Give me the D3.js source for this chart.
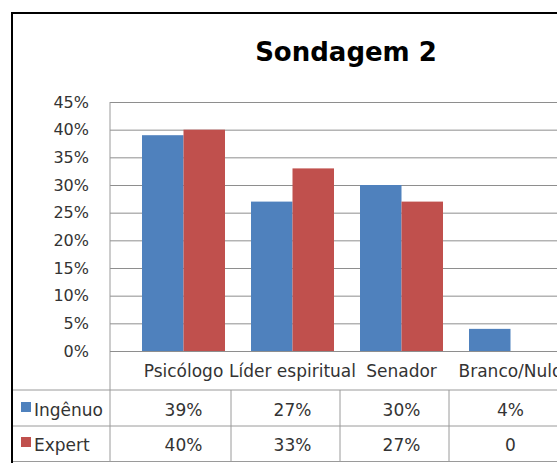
<!doctype html>
<html>
  <head>
    <meta charset="utf-8">
    <script src="https://d3js.org/d3.v7.min.js"></script>
    <style>
      body { margin: 0; background: #fff; }
      text { font-family: "DejaVu Sans", sans-serif; fill: #333; }
    </style>
  </head>
  <body>
    <svg id="chart" width="557" height="463"></svg>
  </body>
  <script>
    // data
    var categories = ["Psicólogo", "Líder espiritual", "Senador", "Branco/Nulo"];
    var seriesNames = ["Ingênuo", "Expert"];
    var ingenuo = [39, 27, 30, 4];
    var expert = [40, 33, 27, 0];
    var ingenuoLabels = ["39%", "27%", "30%", "4%"];
    var expertLabels = ["40%", "33%", "27%", "0"];
    var yTicks = [0, 5, 10, 15, 20, 25, 30, 35, 40, 45];
    var colors = ["#4F81BD", "#C0504D"];

    var svg = d3.select("#chart");

    var plotLeft = 110, plotTop = 102, plotBottom = 351, plotRight = 557;

    var xScale = d3.scaleBand().domain(categories).range([129, 565]);
    var inner = d3.scaleBand().domain(seriesNames)
      .range([(xScale.bandwidth() - 83) / 2, (xScale.bandwidth() + 83) / 2]);
    var yScale = d3.scaleLinear().domain([0, 45]).range([plotBottom, plotTop]);

    // outer frame (only top and left visible)
    svg.append("path")
      .attr("d", "M12,463 L12,13 L557,13")
      .attr("fill", "none")
      .attr("stroke", "#000")
      .attr("stroke-width", 2);

    svg.append("text")
      .attr("x", 346)
      .attr("y", 61)
      .attr("text-anchor", "middle")
      .style("font-size", "26px")
      .style("font-weight", "bold")
      .style("fill", "#000")
      .text("Sondagem 2");

    // y axis with gridlines
    var yAxis = d3.axisLeft(yScale)
      .tickValues(yTicks)
      .tickSize(-(plotRight - plotLeft))
      .tickPadding(21)
      .tickFormat(d => d + "%");

    var yAxisG = svg.append("g")
      .attr("transform", "translate(" + plotLeft + ",0)")
      .call(yAxis);
    yAxisG.select(".domain").remove();
    yAxisG.selectAll("line").attr("stroke", "#8e8e8e");
    yAxisG.selectAll("text")
      .style("font-size", "16px")
      .style("font-family", "DejaVu Sans, sans-serif")
      .attr("fill", "#333");

    // bars
    var rows = categories.map((c, i) => ({cat: c, vals: [ingenuo[i], expert[i]]}));
    var groups = svg.selectAll("g.cat")
      .data(rows)
      .enter()
      .append("g")
      .attr("class", "cat")
      .attr("transform", d => "translate(" + xScale(d.cat) + ",0)");

    groups.selectAll("rect")
      .data(d => d.vals.map((v, j) => ({name: seriesNames[j], value: v, j: j})))
      .enter()
      .append("rect")
      .attr("x", d => inner(d.name))
      .attr("y", d => yScale(d.value))
      .attr("width", inner.bandwidth())
      .attr("height", d => plotBottom - yScale(d.value))
      .attr("fill", d => colors[d.j]);

    // data table lines
    var lineColor = "#9a9a9a";
    svg.append("line")
      .attr("x1", plotLeft).attr("x2", plotLeft)
      .attr("y1", plotTop).attr("y2", 462)
      .attr("stroke", lineColor);
    svg.append("line")
      .attr("x1", plotLeft).attr("x2", plotRight)
      .attr("y1", plotBottom + 0.5).attr("y2", plotBottom + 0.5)
      .attr("stroke", "#8e8e8e");
    [390, 426, 461.5].forEach(function (y) {
      svg.append("line")
        .attr("x1", 13).attr("x2", plotRight)
        .attr("y1", y).attr("y2", y)
        .attr("stroke", lineColor);
    });
    categories.slice(1).forEach(function (c) {
      svg.append("line")
        .attr("x1", xScale(c) - 7).attr("x2", xScale(c) - 7)
        .attr("y1", 390).attr("y2", 462)
        .attr("stroke", lineColor);
    });

    // category labels (header row)
    svg.selectAll("text.cat")
      .data(categories)
      .enter()
      .append("text")
      .attr("class", "cat")
      .attr("x", d => xScale(d) + xScale.bandwidth() / 2)
      .attr("y", 377)
      .attr("text-anchor", "middle")
      .style("font-size", "17px")
      .text(d => d);

    // value rows
    var tableRows = [ingenuoLabels, expertLabels];
    var rowBase = [416, 451];
    tableRows.forEach(function (labels, r) {
      svg.selectAll("text.val" + r)
        .data(labels)
        .enter()
        .append("text")
        .attr("class", "val" + r)
        .attr("x", (d, i) => xScale(categories[i]) + xScale.bandwidth() / 2)
        .attr("y", rowBase[r])
        .attr("text-anchor", "middle")
        .style("font-size", "17px")
        .text(d => d);

      svg.append("rect")
        .attr("x", 21)
        .attr("y", rowBase[r] - 14)
        .attr("width", 10)
        .attr("height", 10)
        .attr("fill", colors[r]);

      svg.append("text")
        .attr("x", 34)
        .attr("y", rowBase[r])
        .style("font-size", "17px")
        .text(seriesNames[r]);
    });
  </script>
</html>
